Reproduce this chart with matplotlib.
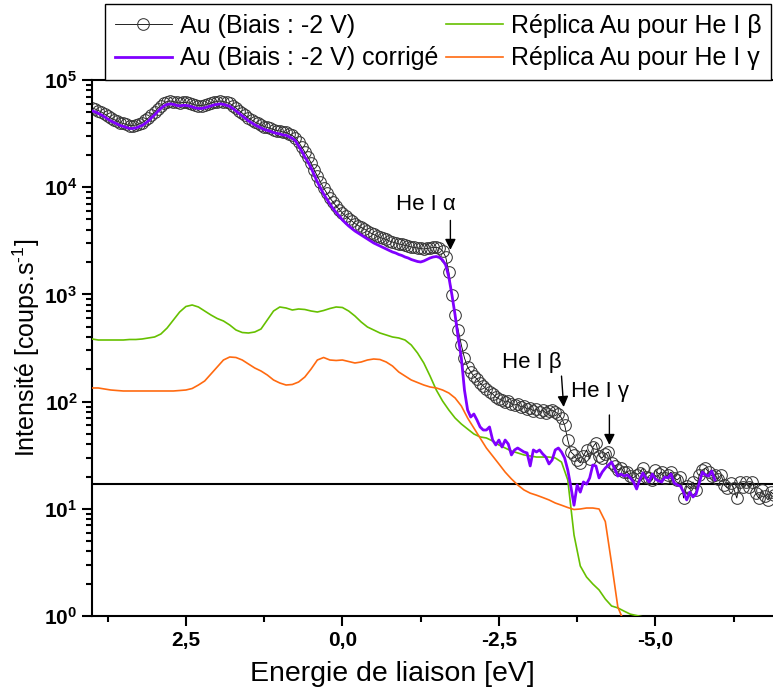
import numpy as np
import matplotlib
matplotlib.use("Agg")
import matplotlib.pyplot as plt
from matplotlib.ticker import MultipleLocator, LogLocator, FuncFormatter, NullFormatter

plt.rcParams['font.family'] = ['Liberation Sans', 'DejaVu Sans']
plt.rcParams['mathtext.fontset'] = 'custom'
plt.rcParams['mathtext.rm'] = 'Liberation Sans'
plt.rcParams['mathtext.bf'] = 'Liberation Sans:bold'
plt.rcParams['mathtext.it'] = 'Liberation Sans:italic'

# ---------------- data ----------------
# Au spectrum (bias -2 V), sampled every 0.05 eV starting at 4.0 eV
au_start, au_step = 4.0, -0.05
au_counts = [
    54800, 53600, 51900, 50300, 48200, 46200, 44200, 42800, 41500, 40100,
    39300, 38500, 37600, 37600, 38000, 38900, 40100, 41900, 44200, 47200,
    50300, 54200, 57800, 61000, 63000, 63700, 63000, 61700, 61000, 61700,
    61700, 61000, 59700, 58500, 57800, 57800, 58500, 59700, 61000, 62300,
    63000, 63700, 63000, 61700, 60400, 57800, 54800, 51900, 49200, 46700,
    44200, 42400, 40600, 39300, 38000, 36800, 36100, 35300, 34500, 33800,
    33400, 32700, 32400, 31400, 30400, 28800, 26400, 23700, 21300, 19100,
    16800, 14500, 12700, 11200, 9830, 8830, 7930, 7280, 6680, 6190,
    5745, 5385, 5105, 4838, 4585, 4392, 4208, 4075, 3904, 3740,
    3622, 3507, 3396, 3324, 3253, 3149, 3083, 3017, 2953, 2921,
    2860, 2829, 2769, 2739, 2710, 2681, 2652, 2681, 2710, 2739,
    2739, 2710, 2541, 2233, 1618, 987, 643, 466, 337, 255,
    210, 189, 173, 162, 149, 140, 131, 123, 118, 110,
    106, 103.5, 99, 101, 95, 93, 95, 89, 91, 85,
    87, 82, 85, 80, 83.5, 78, 82, 83.5, 80, 76.6,
    70.3, 60.5, 43.8, 33.9, 31.8, 28.5, 26.8, 31.1, 35.4, 29.1,
    37.7, 41.1, 31.1, 29.8, 32.5, 33.9, 26.8, 25.1, 23.0, 24.0,
    22.0, 22.0, 20.2, 19.4, 20.7, 21.6, 24.0, 19.8, 19.4, 18.6,
    23.0, 21.1, 22.0, 19.4, 20.7, 22.0, 19.4, 18.6, 19.8, 12.6,
    16.3, 15.3, 17.8, 15.0, 20.7, 23.0, 24.0, 22.0, 20.2, 20.7,
    19.0, 20.7, 16.7, 15.6, 17.4, 15.6, 12.6, 17.8, 16.0, 17.8,
    16.0, 17.8, 14.0, 12.6, 15.0, 13.2, 12.1, 14.3, 13.4,
]

# Corrected Au spectrum, same sampling
au_corr_counts = [
    51500, 50400, 48800, 47300, 45300, 43400, 41500, 40200, 39000, 37700,
    36900, 36200, 35300, 35300, 35700, 36600, 37700, 39400, 41500, 44400,
    47300, 50900, 54300, 57300, 59200, 59900, 59200, 58000, 57300, 58000,
    58000, 57300, 56100, 55000, 54300, 54300, 55000, 56100, 57300, 58600,
    59200, 59900, 59200, 58000, 56800, 54300, 51500, 48800, 46200, 43900,
    41500, 39900, 38200, 36900, 35700, 34600, 33900, 33200, 32400, 31800,
    31400, 30700, 30500, 29500, 28600, 27100, 24230, 21770, 19130, 17190,
    15110, 12990, 11180, 9830, 8645, 7761, 6970, 6327, 5808, 5385,
    4943, 4634, 4346, 4118, 3904, 3740, 3582, 3431, 3287, 3149,
    3017, 2921, 2829, 2739, 2652, 2568, 2486, 2434, 2357, 2307,
    2233, 2186, 2116, 2071, 2027, 2006, 2049, 2116, 2186, 2233,
    2257, 2209, 2094, 1881, 1453, 987, 643, 392, 255, 128,
    83.5, 71.8, 76.6, 67.3, 58.0, 54.3, 54.3, 58.0, 43.8, 39.4,
    43.8, 37.7, 43.8, 40.2, 31.8, 35.4, 36.9, 35.4, 33.9, 33.2,
    25.1, 35.4, 33.9, 35.4, 32.5, 30.4, 26.2, 28.5, 35.4, 36.9,
    33.9, 29.8, 23.0, 16.0, 10.8, 16.7, 14.3, 17.8, 17.0, 19.4,
    25.6, 25.1, 19.4, 22.0, 24.0, 25.6, 27.3, 23.5, 20.2, 21.1,
    20.2, 20.7, 19.4, 17.8, 15.3, 18.6, 21.6, 19.4, 17.8, 21.1,
    19.0, 18.2, 17.8, 19.8, 19.4, 21.1, 17.4, 16.7, 16.3, 14.3,
    12.1, 14.3, 12.9, 13.7, 17.4, 22.0, 20.7, 20.2, 22.5, 18.6,
]

# Replicas, sampled every 0.1 eV starting at 4.0 eV
rep_start, rep_step = 4.0, -0.1
replica_beta = [
    383.7, 375.5, 375.5, 375.5, 375.5, 375.5, 379.6, 379.6, 383.7, 392.2,
    400.6, 427.1, 486.0, 577.0, 685.1, 771.3, 796.5, 763.0, 700.0, 642.5,
    596.0, 564.9, 518.3, 465.6, 441.0, 436.4, 445.9, 475.6, 577.0, 700.0,
    763.0, 746.7, 715.3, 731.0, 723.1, 700.0, 685.1, 707.6, 738.7, 763.0,
    754.8, 700.0, 628.9, 552.8, 496.6, 465.6, 436.4, 418.2, 400.6, 392.2,
    375.5, 337.3, 284.1, 229.2, 173.3, 128.3, 101.3, 83.5, 70.3, 61.8,
    55.5, 49.9, 46.8, 45.8, 42.9, 39.4, 36.9, 34.6, 33.2, 31.8,
    31.1, 30.4, 30.4, 30.4, 29.8, 27.3, 18.6, 5.70, 2.93, 2.31,
    1.99, 1.75, 1.44, 1.24, 1.19, 1.11, 1.04, 1.01, 0.98,
]
replica_gamma = [
    134.0, 134.0, 131.1, 128.3, 126.9, 125.6, 125.6, 125.6, 125.6, 125.6,
    125.6, 125.6, 125.6, 125.6, 126.9, 128.3, 132.5, 142.8, 155.7, 180.9,
    210.3, 244.4, 260.6, 257.9, 244.4, 224.2, 205.8, 192.9, 177.1, 159.1,
    149.1, 142.8, 144.4, 152.3, 169.6, 201.4, 244.4, 257.9, 244.4, 241.8,
    244.4, 236.6, 229.2, 234.1, 244.4, 249.7, 247.0, 234.1, 214.8, 188.9,
    173.3, 159.1, 150.7, 142.8, 136.9, 134.0, 128.3, 120.3, 108.1, 91.0,
    70.3, 56.7, 45.7, 36.9, 31.1, 26.2, 22.0, 19.0, 16.7, 15.0,
    14.0, 13.4, 12.75, 12.1, 11.33, 10.8, 10.28, 9.85, 9.96, 10.17,
    10.17, 9.96, 7.6, 3.1, 1.21, 0.88,
]

baseline = 17.0

labels = ['Au (Biais : -2 V)', 'Au (Biais : -2 V) corrigé',
          'Réplica Au pour He I β', 'Réplica Au pour He I γ']

# annotations: (text, text position (eV, counts), arrow tail, arrow head)
annotations = [
    ('He I α', (-1.34, 6830), (-1.725, 4900), (-1.725, 2600)),
    ('He I β', (-3.02, 234), (-3.50, 173), (-3.535, 89)),
    ('He I γ', (-4.11, 123), (-4.265, 75), (-4.265, 39.4)),
]

# ---------------- plot ----------------
e_au = np.round(au_start + au_step * np.arange(len(au_counts)), 3)
e_corr = e_au[:len(au_corr_counts)]
e_rep_b = np.round(rep_start + rep_step * np.arange(len(replica_beta)), 3)
e_rep_g = np.round(rep_start + rep_step * np.arange(len(replica_gamma)), 3)

W, H = 773, 693
fig = plt.figure(figsize=(W / 100, H / 100), dpi=100)
ax_w = 11 * 62.6
ax = fig.add_axes([92 / W, 1 - 616 / H, ax_w / W, (616 - 80) / H])

c_purple = '#8000FF'
c_green = '#66C000'
c_orange = '#FF6A10'

ax.axhline(baseline, color='black', lw=1.5, zorder=1)
l_au, = ax.plot(e_au, au_counts, '-o', color='black', lw=0.6, ms=8.4,
                mfc='none', mec='#383838', mew=0.75, zorder=2)
l_b, = ax.plot(e_rep_b, replica_beta, color=c_green, lw=1.2, zorder=3)
l_g, = ax.plot(e_rep_g, replica_gamma, color=c_orange, lw=1.2, zorder=3)
l_c, = ax.plot(e_corr, au_corr_counts, color=c_purple, lw=2.0, zorder=4)

ax.set_yscale('log')
ax.set_xlim(4.0, -7.0)
ax.set_ylim(1, 1e5)

ax.xaxis.set_major_locator(MultipleLocator(2.5))
ax.xaxis.set_minor_locator(MultipleLocator(1.25))
ax.xaxis.set_major_formatter(FuncFormatter(
    lambda v, p: ('%.1f' % (0.0 if abs(v) < 1e-9 else v)).replace('.', ',')))
ax.yaxis.set_major_locator(LogLocator(base=10, numticks=10))
ax.yaxis.set_minor_locator(LogLocator(base=10, subs=np.arange(2, 10), numticks=20))
ax.yaxis.set_minor_formatter(NullFormatter())
ax.yaxis.set_major_formatter(FuncFormatter(
    lambda v, p: r'$\mathbf{10^{%d}}$' % int(round(np.log10(v)))))

ax.tick_params(which='major', direction='out', length=7, width=1.5,
               labelsize=15, top=False, right=False)
ax.tick_params(which='minor', direction='out', length=4, width=1.5,
               top=False, right=False)
for lab in ax.get_xticklabels():
    lab.set_fontweight('bold')
for s in ax.spines.values():
    s.set_linewidth(1.5)

ax.set_xlabel('Energie de liaison [eV]', fontsize=20.5, labelpad=8)
ax.xaxis.label.set_x((392 - 92) / ax_w)
ax.set_ylabel('Intensité [coups.s$^{\\mathregular{\u2010}1}$]', fontsize=18, labelpad=1)

for txt, tpos, tail, head in annotations:
    ax.text(tpos[0], tpos[1], txt, fontsize=16, ha='center', va='center')
    ax.annotate('', xy=head, xytext=tail,
                arrowprops=dict(arrowstyle='-|>', color='black', lw=1.0,
                                mutation_scale=16, shrinkA=0, shrinkB=0))

fig.legend([l_au, l_c, l_b, l_g], labels, ncol=2, loc='lower left',
           bbox_to_anchor=(105 / W, 1 - 80 / H, (771 - 105) / W, 73 / H),
           mode='expand', borderaxespad=0, fontsize=18, handlelength=2.3,
           handletextpad=0.3, labelspacing=0.35, borderpad=0.38,
           columnspacing=1.0, fancybox=False, framealpha=1,
           edgecolor='black')
fig.legends[0].get_frame().set_linewidth(1.0)

fig.savefig('out.png', dpi=100)
